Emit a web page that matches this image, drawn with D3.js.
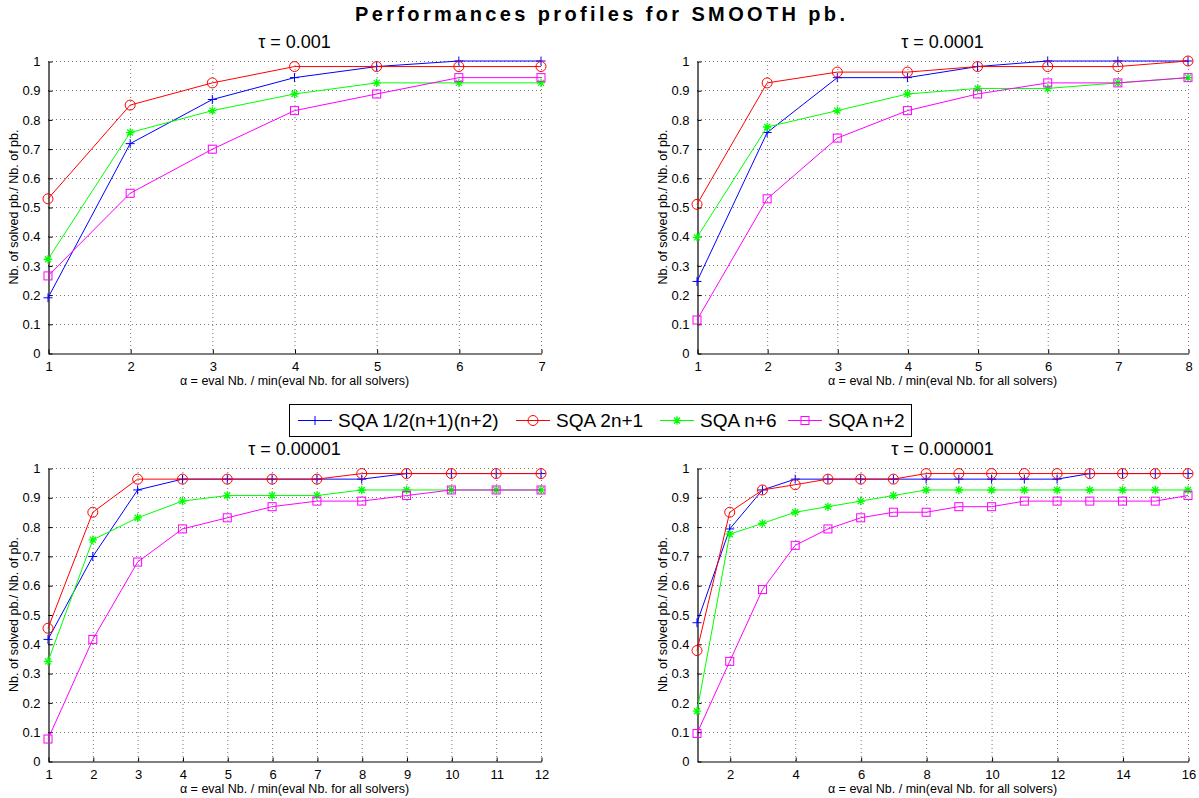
<!DOCTYPE html>
<html>
<head>
<meta charset="utf-8">
<script src="https://cdn.jsdelivr.net/npm/d3@7"></script>
<style>
  body { margin: 0; background: #fff; }
  svg { display: block; font-family: "Liberation Sans", Arial, Helvetica, sans-serif; }
  .tick text { font-size: 13px; fill: #000; }
  .domain { stroke: #000; }
</style>
</head>
<body>
<svg id="chart" width="1199" height="798"></svg>
<script>
const seriesNames = ["SQA 1/2(n+1)(n+2)", "SQA 2n+1", "SQA n+6", "SQA n+2"];
const seriesColors = ["#0000ff", "#ff0000", "#00ff00", "#ff00ff"];
const seriesMarkers = ["plus", "circle", "star", "square"];

const panelTitles = ["τ = 0.001", "τ = 0.0001", "τ = 0.00001", "τ = 0.000001"];
const yTicks = [0, 0.1, 0.2, 0.3, 0.4, 0.5, 0.6, 0.7, 0.8, 0.9, 1];
const xTicksP1 = [1, 2, 3, 4, 5, 6, 7];
const xTicksP2 = [1, 2, 3, 4, 5, 6, 7, 8];
const xTicksP3 = [1, 2, 3, 4, 5, 6, 7, 8, 9, 10, 11, 12];
const xTicksP4 = [2, 4, 6, 8, 10, 12, 14, 16];
const xDomains = [[1, 7], [1, 8], [1, 12], [1, 16]];

// tau = 0.001
const p1Blue    = [0.189, 0.717, 0.868, 0.943, 0.981, 1.000, 1.000];
const p1Red     = [0.528, 0.849, 0.925, 0.981, 0.981, 0.981, 0.981];
const p1Green   = [0.321, 0.755, 0.830, 0.887, 0.925, 0.925, 0.925];
const p1Magenta = [0.264, 0.547, 0.698, 0.830, 0.887, 0.943, 0.943];
// tau = 0.0001
const p2Blue    = [0.245, 0.755, 0.943, 0.943, 0.981, 1.000, 1.000, 1.000];
const p2Red     = [0.509, 0.925, 0.962, 0.962, 0.981, 0.981, 0.981, 1.000];
const p2Green   = [0.396, 0.774, 0.830, 0.887, 0.906, 0.906, 0.925, 0.943];
const p2Magenta = [0.113, 0.528, 0.736, 0.830, 0.887, 0.925, 0.925, 0.943];
// tau = 0.00001
const p3Blue    = [0.415, 0.698, 0.925, 0.962, 0.962, 0.962, 0.962, 0.962, 0.981, 0.981, 0.981, 0.981];
const p3Red     = [0.453, 0.849, 0.962, 0.962, 0.962, 0.962, 0.962, 0.981, 0.981, 0.981, 0.981, 0.981];
const p3Green   = [0.340, 0.755, 0.830, 0.887, 0.906, 0.906, 0.906, 0.925, 0.925, 0.925, 0.925, 0.925];
const p3Magenta = [0.075, 0.415, 0.679, 0.792, 0.830, 0.868, 0.887, 0.887, 0.906, 0.925, 0.925, 0.925];
// tau = 0.000001
const p4Blue    = [0.472, 0.792, 0.925, 0.962, 0.962, 0.962, 0.962, 0.962, 0.962, 0.962, 0.962, 0.962, 0.981, 0.981, 0.981, 0.981];
const p4Red     = [0.377, 0.849, 0.925, 0.943, 0.962, 0.962, 0.962, 0.981, 0.981, 0.981, 0.981, 0.981, 0.981, 0.981, 0.981, 0.981];
const p4Green   = [0.170, 0.774, 0.811, 0.849, 0.868, 0.887, 0.906, 0.925, 0.925, 0.925, 0.925, 0.925, 0.925, 0.925, 0.925, 0.925];
const p4Magenta = [0.094, 0.340, 0.585, 0.736, 0.792, 0.830, 0.849, 0.849, 0.868, 0.868, 0.887, 0.887, 0.887, 0.887, 0.887, 0.906];

const panelData = [
  [p1Blue, p1Red, p1Green, p1Magenta],
  [p2Blue, p2Red, p2Green, p2Magenta],
  [p3Blue, p3Red, p3Green, p3Magenta],
  [p4Blue, p4Red, p4Green, p4Magenta]
];
const panelXTicks = [xTicksP1, xTicksP2, xTicksP3, xTicksP4];

const mainTitle = "Performances profiles for SMOOTH pb.";
const xLabel = "α = eval Nb. / min(eval Nb. for all solvers)";
const yLabel = "Nb. of solved pb./ Nb. of pb.";

// layout
const panels = [
  { left: 48, right: 541, top: 61, bottom: 353 },
  { left: 697, right: 1188, top: 61, bottom: 353 },
  { left: 48, right: 541, top: 468, bottom: 761 },
  { left: 697, right: 1188, top: 468, bottom: 761 }
];

const svg = d3.select("#chart");

svg.append("text")
  .attr("x", 600).attr("y", 21)
  .attr("text-anchor", "middle")
  .attr("font-size", 20).attr("font-weight", "bold")
  .attr("textLength", 490).attr("lengthAdjust", "spacing")
  .text(mainTitle);

function drawMarker(g, type, x, y, color) {
  if (type === "plus") {
    g.append("path").attr("d", `M${x-4.5},${y}H${x+4.5}M${x},${y-4.5}V${y+4.5}`)
      .attr("stroke", color).attr("stroke-width", 1).attr("fill", "none");
  } else if (type === "circle") {
    g.append("circle").attr("cx", x).attr("cy", y).attr("r", 5)
      .attr("stroke", color).attr("stroke-width", 1).attr("fill", "none");
  } else if (type === "star") {
    const r = 4.2, d = 3;
    g.append("path").attr("d", `M${x-r},${y}H${x+r}M${x},${y-r}V${y+r}M${x-d},${y-d}L${x+d},${y+d}M${x-d},${y+d}L${x+d},${y-d}`)
      .attr("stroke", color).attr("stroke-width", 1.3).attr("fill", "none");
  } else if (type === "square") {
    g.append("rect").attr("x", x - 4).attr("y", y - 4).attr("width", 8).attr("height", 8)
      .attr("stroke", color).attr("stroke-width", 1).attr("fill", "none");
  }
}

panels.forEach((p, i) => {
  const g = svg.append("g");
  const x = d3.scaleLinear().domain(xDomains[i]).range([p.left, p.right]);
  const y = d3.scaleLinear().domain([0, 1]).range([p.bottom, p.top]);
  const xt = panelXTicks[i];

  // grid
  const grid = g.append("g").attr("stroke", "#555").attr("stroke-width", 0.8)
    .attr("stroke-dasharray", "1,3");
  grid.selectAll("line.v").data(xt.filter(t => t !== xDomains[i][0])).join("line")
    .attr("x1", d => x(d) + 0.5).attr("x2", d => x(d) + 0.5)
    .attr("y1", p.top).attr("y2", p.bottom);
  grid.selectAll("line.h").data(yTicks.filter(t => t !== 0)).join("line")
    .attr("y1", d => Math.round(y(d)) + 0.5).attr("y2", d => Math.round(y(d)) + 0.5)
    .attr("x1", p.left).attr("x2", p.right);

  // axes
  const xAxis = d3.axisBottom(x).tickValues(xt).tickFormat(d3.format("d"))
    .tickSizeInner(-4).tickSizeOuter(0).tickPadding(6);
  g.append("g").attr("transform", `translate(0.5,${p.bottom + 0.5})`).call(xAxis)
    .call(a => a.selectAll(".tick text").attr("dy", "0.85em"));
  const yAxis = d3.axisLeft(y).tickValues(yTicks).tickFormat(d => d === 0 || d === 1 ? d3.format("d")(d) : d3.format(".1f")(d))
    .tickSizeInner(-4).tickSizeOuter(0).tickPadding(8);
  g.append("g").attr("transform", `translate(${p.left + 0.5},0.5)`).call(yAxis);
  g.selectAll(".domain").attr("stroke-width", 1.2);

  // title
  g.append("text").attr("x", (p.left + p.right) / 2).attr("y", p.top - 13)
    .attr("text-anchor", "middle").attr("font-size", 18).text(panelTitles[i]);

  // x label
  g.append("text").attr("x", (p.left + p.right) / 2).attr("y", p.bottom + 32)
    .attr("text-anchor", "middle").attr("font-size", 12.5).text(xLabel);

  // y label
  g.append("text")
    .attr("transform", `translate(${p.left - 30},${(p.top + p.bottom) / 2}) rotate(-90)`)
    .attr("text-anchor", "middle").attr("font-size", 12.5).text(yLabel);

  // series
  panelData[i].forEach((vals, s) => {
    const pts = vals.map((v, k) => [k + 1, v]);
    const line = d3.line().x(d => x(d[0])).y(d => y(d[1]));
    const sg = g.append("g");
    sg.append("path").datum(pts).attr("d", line)
      .attr("fill", "none").attr("stroke", seriesColors[s]).attr("stroke-width", 1);
    pts.forEach(d => drawMarker(sg, seriesMarkers[s], x(d[0]), y(d[1]), seriesColors[s]));
  });
});

// legend
const lg = svg.append("g");
lg.append("rect").attr("x", 289.5).attr("y", 404.5).attr("width", 622).attr("height", 32)
  .attr("fill", "#fff").attr("stroke", "#000").attr("stroke-width", 1);
const legendX = [298, 516, 660, 788];
seriesNames.forEach((name, s) => {
  const lx = legendX[s];
  lg.append("line").attr("x1", lx).attr("x2", lx + 34).attr("y1", 420.5).attr("y2", 420.5)
    .attr("stroke", seriesColors[s]).attr("stroke-width", 1);
  drawMarker(lg, seriesMarkers[s], lx + 17, 420.5, seriesColors[s]);
  lg.append("text").attr("x", lx + 40).attr("y", 427).attr("font-size", 19).text(name);
});
</script>
</body>
</html>
